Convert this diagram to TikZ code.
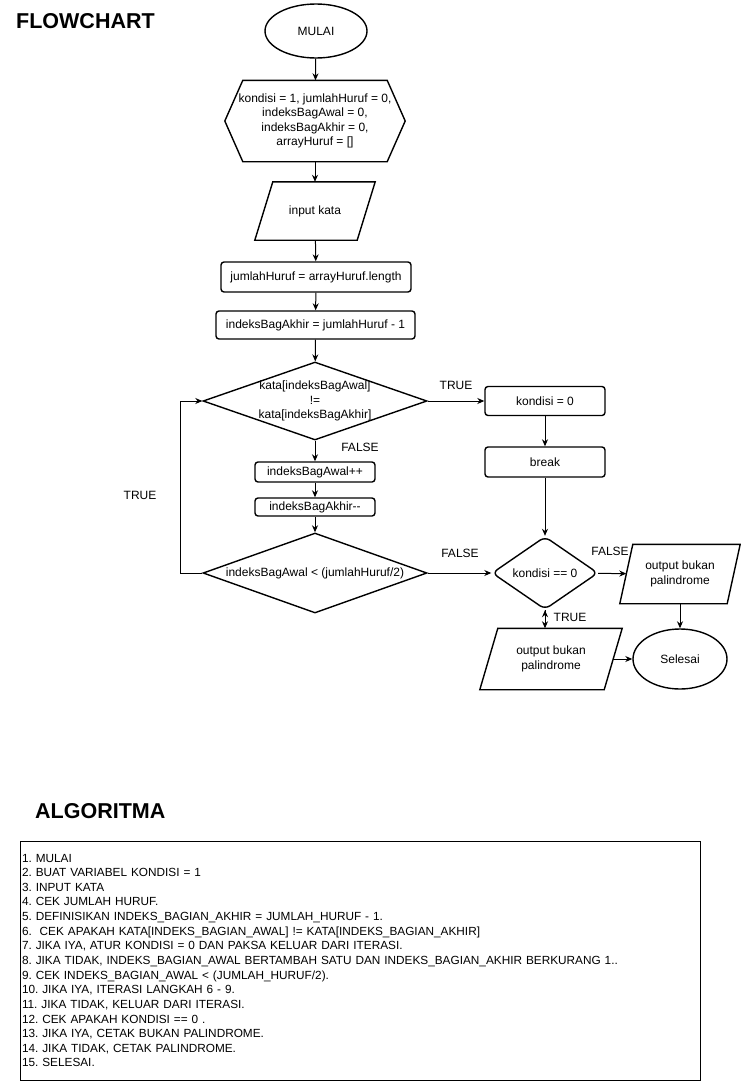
\documentclass[tikz,border=0pt]{standalone}
\usepackage{fontspec}
\setmainfont{Liberation Sans}
\usetikzlibrary{shapes.geometric, arrows.meta, positioning}

\tikzset{
  shapeline/.style={draw=black, line width=1.4pt},
  terminal/.style={ellipse, shapeline, inner sep=0pt},
  process/.style={rectangle, rounded corners=3pt, shapeline, inner sep=0pt},
  decision/.style={diamond, shapeline, inner sep=-6pt, align=center},
  inout/.style={rectangle, inner sep=0pt, align=center},
  prep/.style={rectangle, inner sep=0pt, align=center},
  flowlabel/.style={inner sep=0pt},
  title/.style={inner sep=0pt, anchor=base west, font=\fontsize{21.5}{24}\selectfont\bfseries},
  algobox/.style={draw=black, line width=0.9pt, text width=676pt, inner xsep=2pt, inner ysep=0pt,
                  minimum height=239pt, align=left, font=\fontsize{11.8}{14.64}\selectfont},
  flow/.style={->, line width=1pt},
}

\begin{document}
\frenchspacing
\begin{tikzpicture}[x=1pt, y=-1pt, font=\fontsize{12}{14.5}\selectfont,
                    >={Stealth[length=7pt, width=6pt]}]
    \useasboundingbox (0,0) rectangle (741,1082);

    % Add the titles
        \node[title] (flowtitle) at (16,28.5) {FLOWCHART};
        \node[title] (algotitle) at (35,818.5) {ALGORITMA};

    % Add the left column
        \node[terminal, minimum width=102, minimum height=54] (start) at (316,31) {MULAI};
        \node[prep, minimum width=180, minimum height=81] (init) at (315,121)
            {kondisi = 1, jumlahHuruf = 0,\\ indeksBagAwal = 0,\\ indeksBagAkhir = 0,\\ arrayHuruf = []};
        \draw[shapeline] (init.west) -- ([xshift=18pt]init.north west) -- ([xshift=-18pt]init.north east)
            -- (init.east) -- ([xshift=-18pt]init.south east) -- ([xshift=18pt]init.south west) -- cycle;
        \node[inout, minimum width=102, minimum height=58] (input) at (315,211) {input kata};
        \node[process, minimum width=190, minimum height=30] (len) at (316,277) {jumlahHuruf = arrayHuruf.length};
        \node[process, minimum width=199, minimum height=28] (last) at (315.5,325) {indeksBagAkhir = jumlahHuruf - 1};
        \node[decision, aspect=2.87, minimum width=224, minimum height=78] (cek1) at (315,401)
            {kata[indeksBagAwal]\\ !=\\ kata[indeksBagAkhir]};
        \node[process, minimum width=120, minimum height=20] (inc) at (315,472) {indeksBagAwal++};
        \node[process, minimum width=120, minimum height=18] (dec) at (315,507) {indeksBagAkhir-{}-};
        \node[decision, aspect=2.8, minimum width=224, minimum height=80] (cek2) at (315,573)
            {indeksBagAwal < (jumlahHuruf/2)};

    % Add the right column
        \node[process, minimum width=120, minimum height=29] (kond) at (545,401) {kondisi = 0};
        \node[process, minimum width=120, minimum height=30] (brk) at (545,462) {break};
        \node[decision, aspect=1.45, rounded corners=6pt, minimum width=106, minimum height=73] (cek3) at (545,573) {kondisi == 0};
        \node[inout, minimum width=107, minimum height=59] (outR) at (680,574) {output bukan\\ palindrome};
        \node[terminal, minimum width=94, minimum height=60] (selesai) at (680,659) {Selesai};
        \node[inout, minimum width=124, minimum height=61] (outL) at (551,659) {output bukan\\ palindrome};

    % Slanted sides of the input/output boxes
        \foreach \n/\s in {input/9, outR/6.5, outL/9}
            \draw[shapeline] ([xshift=\s pt]\n.north west) -- ([xshift=\s pt]\n.north east)
                -- ([xshift=-\s pt]\n.south east) -- ([xshift=-\s pt]\n.south west) -- cycle;

    % Add the branch labels
        \node[flowlabel] (lblT1) at (456,385) {TRUE};
        \node[flowlabel] (lblF1) at (360,447) {FALSE};
        \node[flowlabel] (lblT2) at (140,495) {TRUE};
        \node[flowlabel] (lblF2) at (460,553) {FALSE};
        \node[flowlabel] (lblF3) at (610,551) {FALSE};
        \node[flowlabel] (lblT3) at (570,617) {TRUE};

        \draw[flow]
            (start) edge (init)
            (init) edge (input)
            (input) edge (len)
            (len) edge (last)
            (last) edge (cek1)
            (cek1) edge (inc)
            (inc) edge (dec)
            (dec) edge (cek2)
            (cek1) edge (kond)
            (kond) edge (brk)
            (brk) edge (cek3)
            (cek2) edge (cek3)
            (cek3) edge (outR)
            (cek3.south) edge (cek3.south |- outL.north)
            (outR) edge (selesai)
            (outL) edge (selesai);
        \draw[flow] (cek2.west) -- ++(-22,0) |- (cek1.west);

    % Add the algorithm
        \node[algobox] (algo) at (360,960.5) {1. MULAI\\
            2. BUAT VARIABEL KONDISI = 1\\
            3. INPUT KATA\\
            4. CEK JUMLAH HURUF.\\
            5. DEFINISIKAN INDEKS\_BAGIAN\_AKHIR = JUMLAH\_HURUF - 1.\\
            6.\ \ CEK APAKAH KATA[INDEKS\_BAGIAN\_AWAL] != KATA[INDEKS\_BAGIAN\_AKHIR]\\
            7. JIKA IYA, ATUR KONDISI = 0 DAN PAKSA KELUAR DARI ITERASI.\\
            8. JIKA TIDAK, INDEKS\_BAGIAN\_AWAL BERTAMBAH SATU DAN INDEKS\_BAGIAN\_AKHIR BERKURANG 1..\\
            9. CEK INDEKS\_BAGIAN\_AWAL < (JUMLAH\_HURUF/2).\\
            10. JIKA IYA, ITERASI LANGKAH 6 - 9.\\
            11. JIKA TIDAK, KELUAR DARI ITERASI.\\
            12. CEK APAKAH KONDISI == 0 .\\
            13. JIKA IYA, CETAK BUKAN PALINDROME.\\
            14. JIKA TIDAK, CETAK PALINDROME.\\
            15. SELESAI.};
\end{tikzpicture}
\end{document}
